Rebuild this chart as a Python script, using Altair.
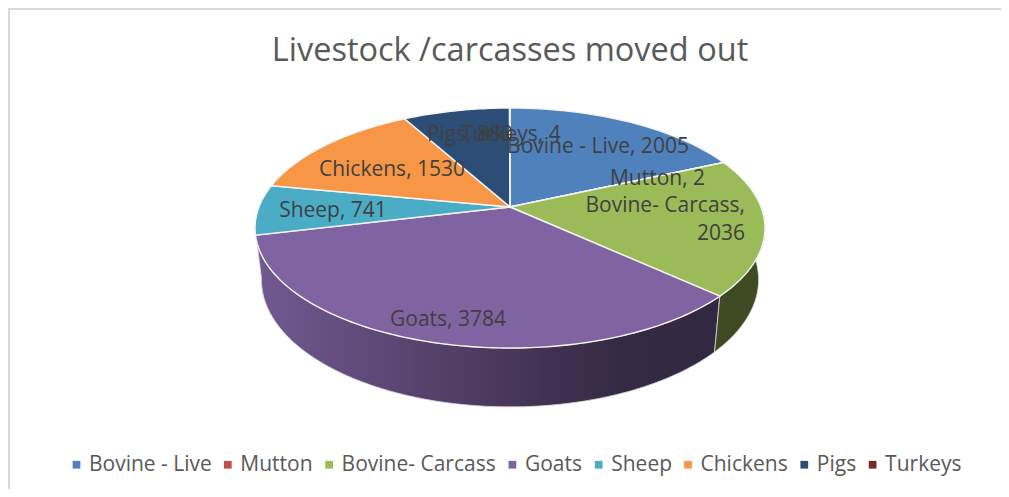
import math
import altair as alt

categories = ["Bovine - Live", "Mutton", "Bovine- Carcass", "Goats", "Sheep", "Chickens", "Pigs", "Turkeys"]
values = [2005, 2, 2036, 3784, 741, 1530, 880, 4]
colors = ["#4f81bd", "#c0504d", "#9bbb59", "#8064a2", "#4bacc6", "#f79646", "#2c4d75", "#772c2a"]
title_text = "Livestock /carcasses moved out"

# Label texts and the page spot each one sits at
labels = [f"{c}, {v}" for c, v in zip(categories, values)]
label_x = [590, 649.5, None, 440, 325, 384, 462, 503]
label_y = [139, 171, None, 312, 203, 162, 127, 127]
carcass_label = "Bovine- Carcass,\n2036"

W, H = 993, 481
CX, CY = 502.0, 199.0   # apex of the pie in chart space
A, B, K = 251.0, 116.3, 0.1753  # perspective tilt of the disc


def rim(theta_deg):
    t = math.radians(theta_deg)
    u, v = math.sin(t), math.cos(t)
    d = 1 + K * v
    return [CX + A * u / d, CY - B * v / d]


def lower(p):
    return [CX + (p[0] - CX) * 0.975, p[1] + 52 + (p[1] - 226) * 0.06]


def arc_pts(a, b):
    n = max(2, int(abs(b - a)) + 2)
    return [rim(a + (b - a) * i / (n - 1)) for i in range(n)]


def wall(a, b):
    top = arc_pts(a, b)
    ring = top + [lower(p) for p in reversed(top)]
    ring.append(ring[0])
    return {"type": "Feature", "properties": {}, "geometry": {"type": "Polygon", "coordinates": [ring]}}


total = sum(values)
edges = [0.0]
for v in values:
    edges.append(edges[-1] + v / total * 360)

wedges = []
for c, a, b in zip(categories, edges[:-1], edges[1:]):
    ring = [[CX, CY]] + arc_pts(a, b) + [[CX, CY]]
    wedges.append({"type": "Feature", "properties": {"category": c},
                   "geometry": {"type": "Polygon", "coordinates": [ring]}})

frame = {"type": "Feature", "properties": {},
         "geometry": {"type": "LineString", "coordinates": [[W, 1], [1, 1], [1, H]]}}


def geo(features):
    return alt.Data(values=features, format=alt.DataFormat(type="json"))


wall_stroke = "#d8d8d8"
purple_wall = alt.Chart(geo([wall(edges[3], edges[4] + 4)])).mark_geoshape(
    stroke=wall_stroke, strokeWidth=0.8,
    color=alt.Gradient(gradient="linear", x1=0, x2=1, y1=0, y2=0, stops=[
        alt.GradientStop(offset=0, color="#705a91"),
        alt.GradientStop(offset=0.39, color="#54416a"),
        alt.GradientStop(offset=0.65, color="#3f304f"),
        alt.GradientStop(offset=0.8, color="#342a44"),
        alt.GradientStop(offset=1, color="#322842"),
    ]))
green_wall = alt.Chart(geo([wall(edges[2] + 20, edges[3])])).mark_geoshape(
    stroke=wall_stroke, strokeWidth=0.8, color="#3f4a22")

disc = alt.Chart(geo(wedges)).mark_geoshape(stroke="#f4f4f4", strokeWidth=1.4).encode(
    color=alt.Color("properties.category:N", sort=None,
                    scale=alt.Scale(domain=categories, range=colors),
                    legend=alt.Legend(
                        title=None, orient="none", direction="horizontal",
                        columns=len(categories), legendX=58, legendY=446,
                        symbolType="square", symbolSize=60, symbolStrokeWidth=0,
                        labelFont="Open Sans", labelFontSize=21, labelColor="#595959",
                        columnPadding=5.3, labelOffset=2, labelLimit=300,
                    )))

label_rows = [{"t": t, "lon": x, "lat": y} for t, x, y in zip(labels, label_x, label_y) if x is not None]
text_kw = dict(font="Open Sans", fontSize=21, color="#404040", baseline="middle")
label_layer = alt.Chart(alt.Data(values=label_rows)).mark_text(**text_kw).encode(
    longitude="lon:Q", latitude="lat:Q", text="t:N")
carcass_layer = alt.Chart(alt.Data(values=[{"t": carcass_label, "lon": 737, "lat": 198}])).mark_text(
    align="right", lineBreak="\n", lineHeight=28, **text_kw).encode(
    longitude="lon:Q", latitude="lat:Q", text="t:N")
frame_layer = alt.Chart(geo([frame])).mark_geoshape(filled=False, stroke="#d9d9d9", strokeWidth=2)

chart = alt.layer(frame_layer, purple_wall, green_wall, disc, label_layer, carcass_layer).properties(
    width=W, height=H,
    projection=alt.Projection(type="identity", scale=1, translate=[0, 0]),
    padding=0,
    title=alt.TitleParams(title_text, font="Open Sans", fontSize=32.5, fontWeight="normal", color="#595959",
                          anchor="middle", offset=-59, dx=5.5),
).configure_view(stroke=None).configure(background="white")

chart.save("out.html", embed_options={"renderer": "svg", "actions": False})
